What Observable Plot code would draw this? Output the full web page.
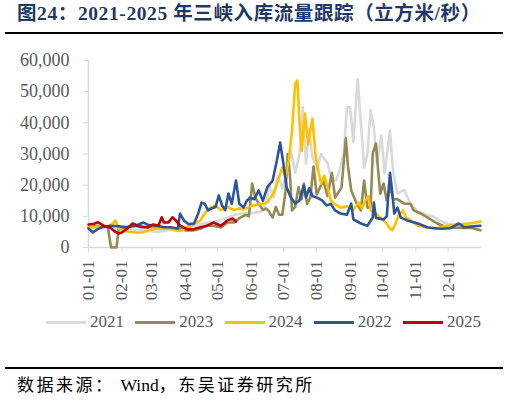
<!DOCTYPE html>
<html><head><meta charset="utf-8">
<script src="https://cdn.jsdelivr.net/npm/d3@7"></script>
<script src="https://cdn.jsdelivr.net/npm/@observablehq/plot@0.6"></script>
<style>
body{margin:0;background:#fff;width:509px;height:401px;position:relative;overflow:hidden;}
.abs{position:absolute;}
#title{left:17px;top:4px;font-family:'Liberation Serif','Noto Sans CJK SC',serif;font-weight:bold;font-size:19.5px;line-height:20px;color:#1f3864;letter-spacing:0.6px;white-space:nowrap;}
#src{left:17px;top:376px;font-family:'Liberation Serif','Noto Sans CJK SC',serif;font-size:17px;line-height:19px;color:#000;letter-spacing:2.5px;white-space:nowrap;}
#src .w{letter-spacing:0;margin-left:6px;font-size:17.5px;}
.rule{left:5px;width:498px;height:2px;background:#000;}
.lg{position:absolute;top:312px;height:20px;font-family:'Liberation Serif',serif;font-size:17px;color:#595959;}
.lg .sw{position:absolute;left:0;top:9px;width:40px;height:3px;}
.lg .tx{position:absolute;left:44px;top:0;line-height:20px;}
</style>
</head><body>
<div id="title" class="abs">图24：2021-2025 年三峡入库流量跟踪（立方米/秒）</div>
<div class="abs rule" style="top:32px"></div>
<div id="chart" class="abs" style="left:0;top:40px"></div>
<div id="legend"></div>
<div class="abs rule" style="top:367px"></div>
<div id="src" class="abs">数据来源：<span class="w">Wind</span>，东吴证券研究所</div>
<script>
// x = day of year (0 = 01-01)
const tickDays = [0,31,59,90,120,151,181,212,243,273,304,334];
const tickLabels = ["01-01","02-01","03-01","04-01","05-01","06-01","07-01","08-01","09-01","10-01","11-01","12-01"];
const yTicks = [0,10000,20000,30000,40000,50000,60000];

const seriesNames = ["2021","2023","2024","2022","2025"];
const seriesColors = ["#d9d9d9","#948a54","#ffc000","#2f5597","#c00000"];

const days2021 = [0,8,16,24,32,40,48,56,64,72,80,88,96,104,112,120,128,136,144,152,160,165,168,172,176,180,184,188,192,196,199,202,205,208,212,216,222,226,230,234,237,240,243,246,250,253,256,259,262,265,268,272,275,280,283,287,293,299,306,311,315,320,327,333,339,346,354,364];
const flow2021 = [7000,6800,6500,6200,6000,5500,5800,5200,5000,5500,6000,6300,7000,7500,8000,8500,9500,10500,11000,11000,11500,14000,20000,16000,23000,19000,24000,31000,24000,30000,45000,27000,38000,29000,25000,30000,27000,21500,21500,25700,30000,45000,45000,34000,54000,40000,25700,30000,44000,38500,27000,36000,23700,37500,23700,17300,18500,14100,11500,11000,10300,10000,8500,7700,7500,7000,7000,6800];

const days2023 = [0,6,12,18,20,21,26,28,34,42,50,58,66,74,82,90,98,104,110,116,123,129,135,141,146,149,152,155,158,162,165,167,171,174,177,180,183,185,187,189,192,195,198,200,203,206,209,212,218,222,226,229,235,239,241,244,249,253,256,259,262,264,267,269,271,274,277,280,283,287,293,299,302,308,315,324,333,345,355,364];
const flow2023 = [6500,6800,7000,6500,2000,0,0,6000,6500,7000,6500,6800,6500,6000,6200,5500,5500,6000,7000,7000,6400,8000,8000,9600,10500,10000,20500,16000,14100,12000,12500,11900,9600,13000,10500,10500,18000,30000,23700,11900,13000,19300,15500,20500,14000,16000,26000,17000,21500,16500,24000,16000,19300,35000,26000,18300,14100,11900,21500,12800,13000,30200,33400,24700,17300,20500,15100,19500,15500,15500,14100,14000,11900,11000,9600,7700,6400,6300,6300,5500];

const days2024 = [0,6,12,18,22,25,28,32,38,44,50,56,62,68,74,80,86,92,96,100,104,108,113,118,123,129,135,140,144,148,153,158,163,166,169,172,175,180,183,186,189,192,194,196,198,201,204,208,211,214,216,219,222,225,228,234,240,246,251,254,257,260,262,267,271,276,280,282,285,288,292,295,299,306,315,322,333,345,355,364];
const flow2024 = [6400,6500,7000,6800,7500,8700,6000,5500,5000,4800,4800,5500,6000,6100,6000,5500,5300,6500,7000,8000,8700,11000,12800,13500,11900,13000,12000,12500,12200,12800,13500,13800,14100,14500,16000,17500,20500,25700,22500,28000,37500,52600,53600,40000,31000,43000,33000,41400,29000,23700,20500,23000,19300,15100,14100,12800,13200,12200,14400,12500,15100,16500,11900,10900,9600,8000,6100,5500,7500,10300,11900,9600,8700,7000,6400,6000,7000,7400,7800,8300];

const days2022 = [0,4,8,12,20,28,36,44,51,56,64,70,76,83,85,89,93,98,102,105,108,111,114,118,121,124,127,130,133,137,140,144,147,150,154,158,162,166,171,175,178,181,184,188,192,196,200,202,205,208,212,217,221,225,229,234,240,244,246,253,259,264,265,267,274,277,280,282,284,287,290,296,306,315,327,336,344,349,358,364];
const flow2022 = [6100,4800,5800,6400,7000,6800,6500,7000,8000,7200,7000,6500,6500,6100,10900,8500,7500,7700,11000,14400,14000,11900,12500,13000,16700,13500,12000,17300,14000,21500,14100,12800,15000,16000,15500,18300,15000,19300,21500,28000,33700,27000,19300,16000,14100,15100,19900,16000,19000,16500,16000,15100,13500,14000,11900,10900,10500,14100,9000,7700,7000,9600,14400,9500,9000,10000,24000,18000,10900,12800,9600,8700,7700,6400,6000,6200,7700,6500,6800,7000];

const days2025 = [0,5,9,14,20,25,28,31,36,41,48,55,60,65,68,70,74,78,81,85,92,98,104,110,116,123,129,134,137];
const flow2025 = [7400,7600,8100,7000,6400,5000,4500,4800,6100,7700,6700,6400,7400,7000,9700,8000,8000,9700,8700,7000,5800,5900,6500,7000,8000,7000,8700,9300,8300];

const seriesDays = [days2021, days2023, days2024, days2022, days2025];
const seriesFlows = [flow2021, flow2023, flow2024, flow2022, flow2025];

const labelOf = new Map(tickDays.map((d,i)=>[d,tickLabels[i]]));
const font = "'Liberation Serif','Times New Roman',serif";

const lineMarks = seriesNames.map((name,i)=>{
  const data = seriesDays[i].map((d,j)=>({day:d, v:seriesFlows[i][j]}));
  return Plot.line(data,{x:"day",y:"v",stroke:seriesColors[i],strokeWidth:2.6,strokeLinejoin:"round"});
});

const chart = Plot.plot({
  width:509, height:272,
  marginLeft:88, marginRight:28, marginTop:20, marginBottom:65,
  style:{fontFamily:font, background:"#fff", color:"#595959"},
  x:{domain:[0,365]},
  y:{domain:[0,60000]},
  marks:[
    Plot.axisY({ticks:yTicks, tickFormat:d3.format(","), tickSize:5, tickPadding:14, fontSize:18, stroke:"#d9d9d9", fill:"#595959", label:null}),
    Plot.axisX({ticks:tickDays, tickFormat:d=>labelOf.get(d), tickRotate:-90, tickSize:5, tickPadding:8, fontSize:17, stroke:"#d9d9d9", fill:"#595959", label:null}),
    Plot.ruleX([0],{stroke:"#d9d9d9", strokeWidth:1.5}),
    Plot.ruleY([0],{stroke:"#d9d9d9", strokeWidth:1.5}),
    ...lineMarks
  ]
});
document.getElementById("chart").appendChild(chart);

const lg = document.getElementById("legend");
seriesNames.forEach((name,i)=>{
  const it = document.createElement("div");
  it.className="lg";
  it.style.left = (46 + i*89.25) + "px";
  it.innerHTML = `<div class="sw" style="background:${seriesColors[i]}"></div><div class="tx">${name}</div>`;
  lg.appendChild(it);
});
</script>
</body></html>
